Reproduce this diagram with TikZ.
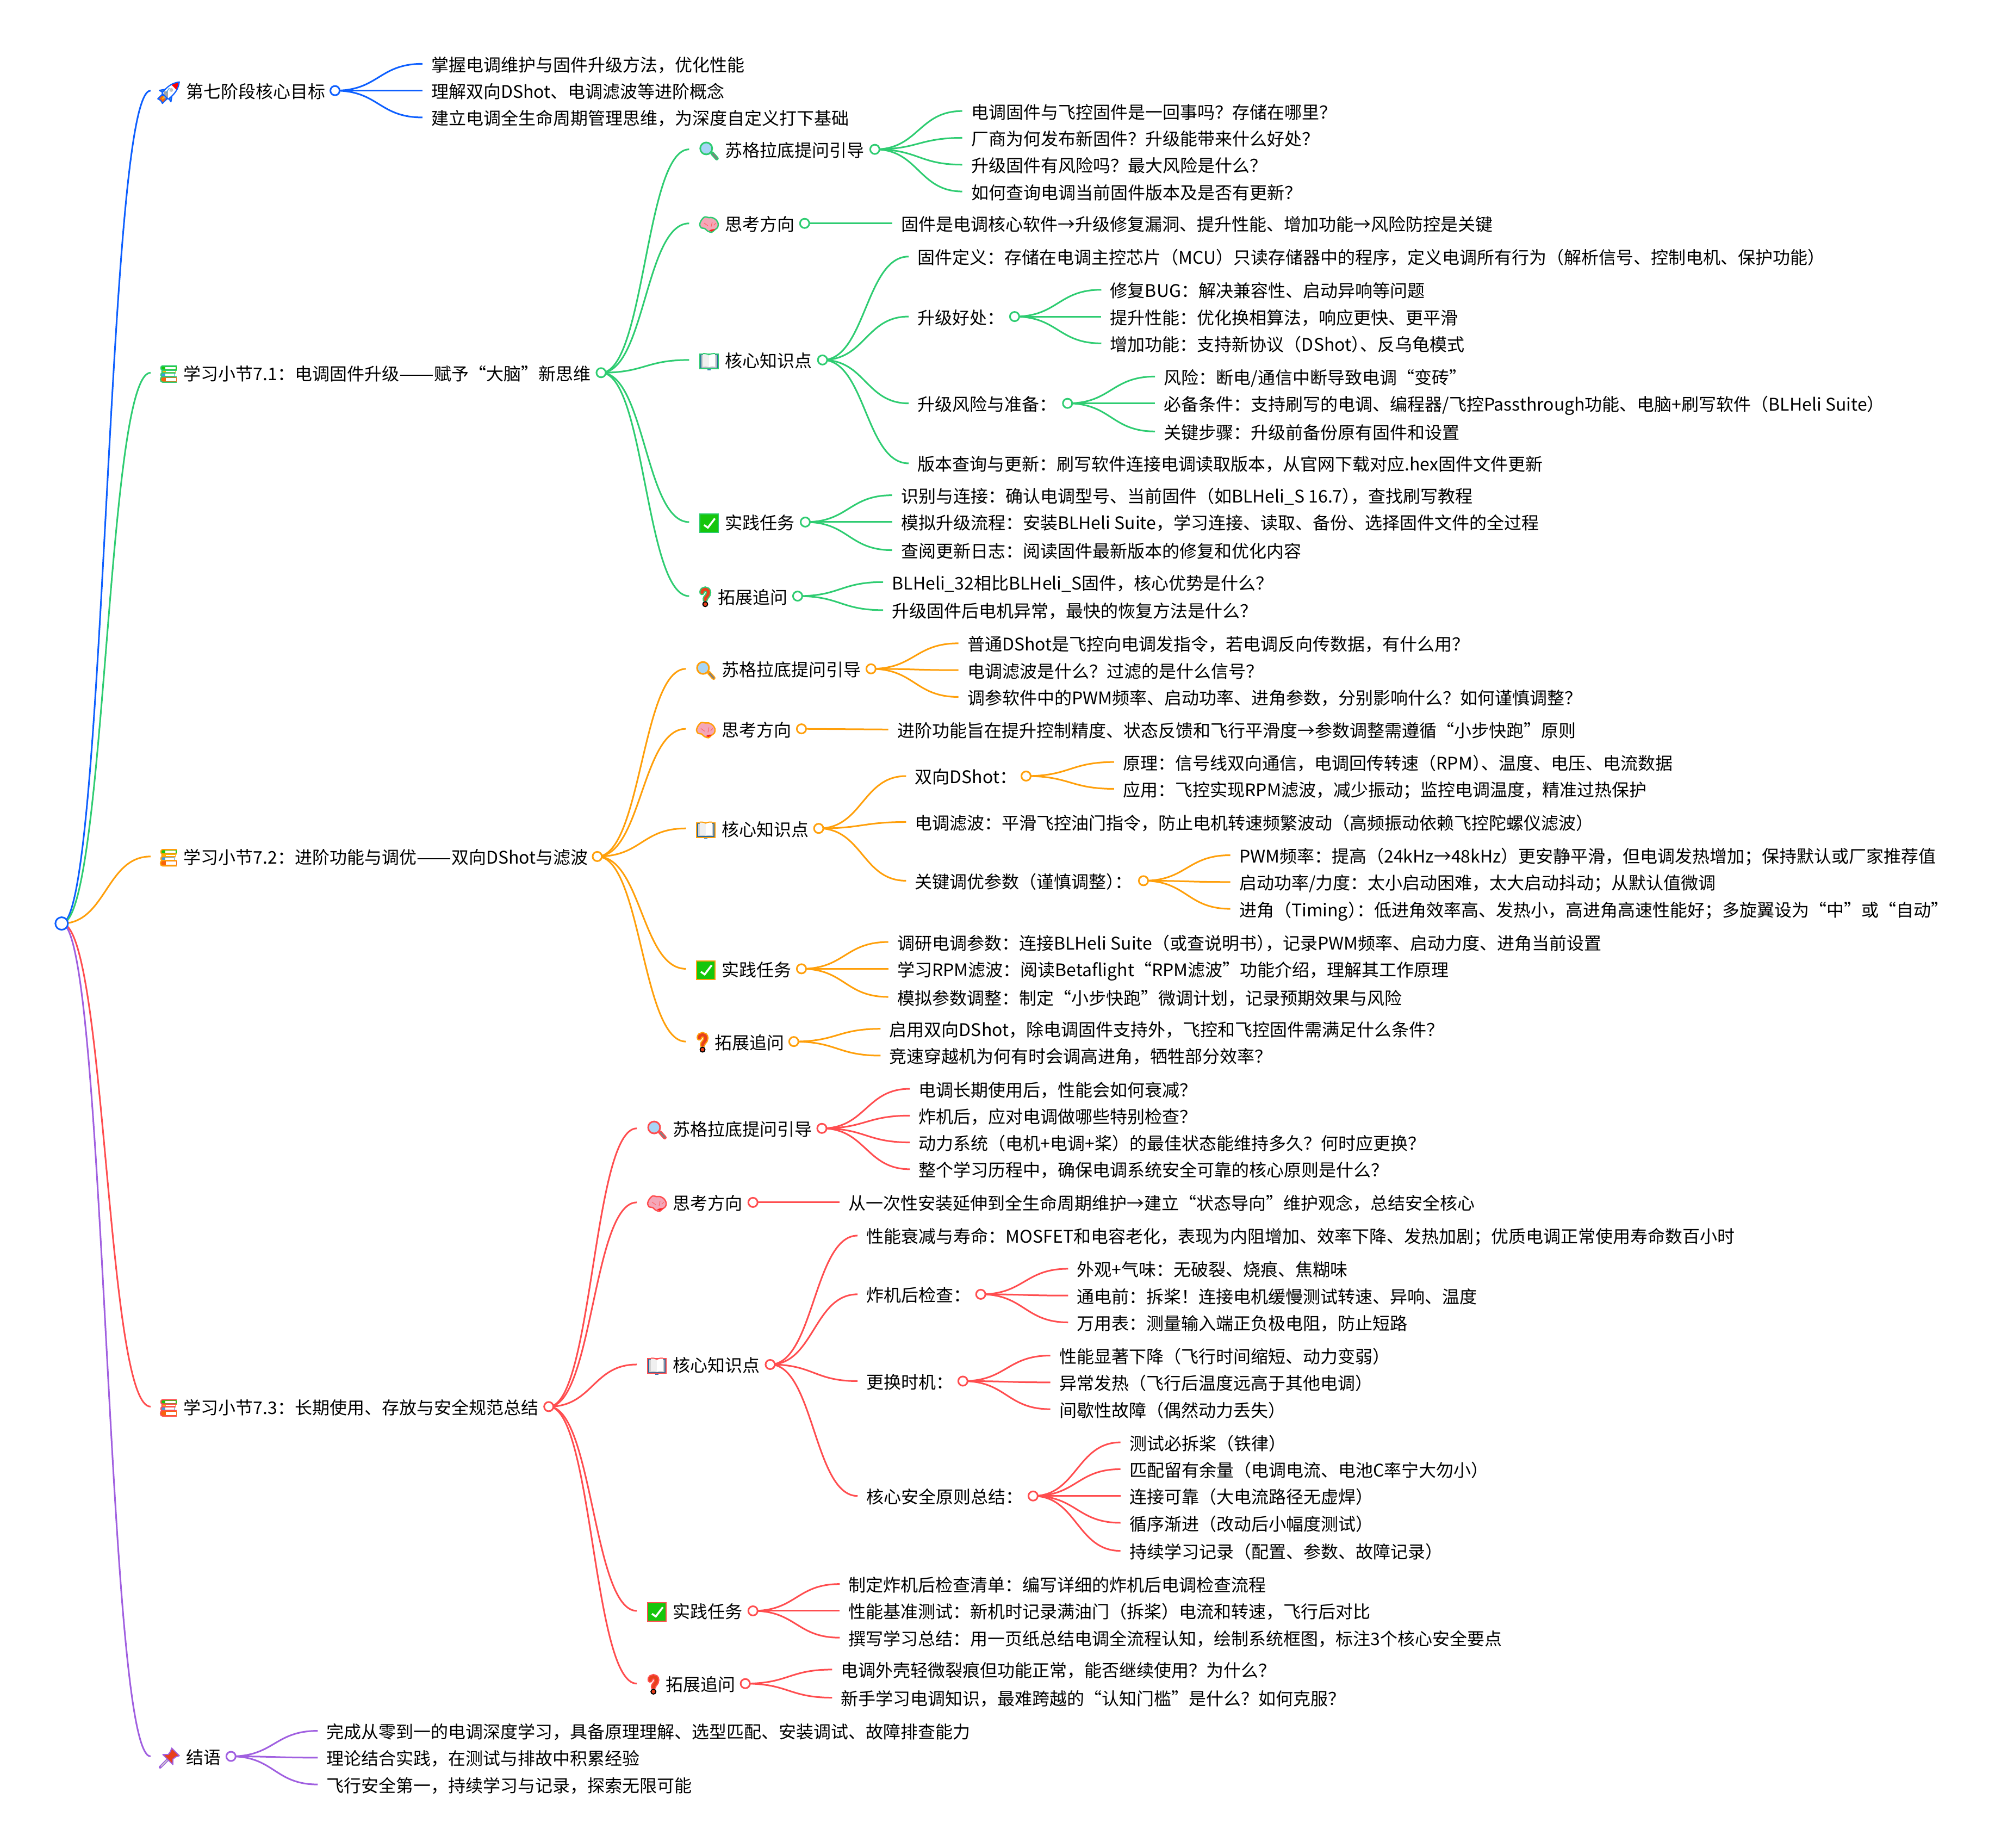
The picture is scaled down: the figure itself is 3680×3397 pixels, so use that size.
\documentclass[tikz,border=0pt]{standalone}
\usepackage{graphicx}
\usepackage{fontspec}
\setmainfont{Noto Sans CJK SC}
\usetikzlibrary{calc}
\pgfdeclarelayer{edges}
\pgfsetlayers{edges,main}

\definecolor{BlueLine}{HTML}{0D5FFF}
\definecolor{GreenLine}{HTML}{2ECC71}
\definecolor{OrangeLine}{HTML}{FF9F0A}
\definecolor{RedLine}{HTML}{FF4D4F}
\definecolor{PurpleLine}{HTML}{A05FE0}
\definecolor{IconGreen}{HTML}{16C60C}
\definecolor{IconRed}{HTML}{E8401C}
\definecolor{IconBlue}{HTML}{3F9BE0}
\definecolor{IconOrange}{HTML}{F7630C}
\definecolor{IconYellow}{HTML}{FCB900}
\definecolor{IconPink}{HTML}{F4A6B8}
\definecolor{IconLens}{HTML}{A8D5F5}
\newcommand{\Trim}{\kern-.5em}
\newcommand{\LongDash}{\scalebox{1.19}[1]{——}}

\tikzset{RocketIcon/.pic = {
	\begin{scope}[x={(0.707pt,0.707pt)},y={(-0.707pt,0.707pt)},line width=2.2pt,line join=round]
		\draw[fill=IconOrange] (-14,-6) -- (-25,-6) .. controls (-23,0) .. (-25,6) -- (-14,6) -- cycle;
		\fill[IconYellow] (-14,-2.5) -- (-21,0) -- (-14,2.5) -- cycle;
		\draw[fill=IconBlue] (-12,-15) -- (-2,-8) -- (-10,-8) -- cycle;
		\draw[fill=IconBlue] (-12,15) -- (-2,8) -- (-10,8) -- cycle;
		\fill[white] (-12,-8) .. controls (4,-10) and (14,-8) .. (25,0) .. controls (14,8) and (4,10) .. (-12,8) -- cycle;
		\fill[red] (11,-8) .. controls (16,-6) .. (25,0) .. controls (16,6) .. (11,8) -- cycle;
		\fill[gray!70] (-11,-7) rectangle (-7,7);
		\fill[gray!50] (4,0) circle (3.5);
		\draw[IconBlue,line width=1.2pt] (-7,3) -- (4,5);
		\draw (-12,-8) .. controls (4,-10) and (14,-8) .. (25,0) .. controls (14,8) and (4,10) .. (-12,8) -- cycle;
	\end{scope}}}
\tikzset{BooksIcon/.pic = {
	\begin{scope}[x=1pt,y=-1pt,line width=2.2pt,line join=round]
		\draw[fill=IconGreen] (15,-15) -- (-11,-15) .. controls (-15,-15) and (-15,-7) .. (-11,-7) -- (15,-7);
		\fill[white] (-6,-13) rectangle (13,-9);
		\draw[fill=IconYellow] (13,-7) -- (-10,-7) .. controls (-13,-7) and (-13,-2) .. (-10,-2) -- (13,-2);
		\fill[white] (-5,-5.5) rectangle (12,-3.5);
		\draw[fill=IconBlue] (11,-2) -- (-11,-2) .. controls (-15,-2) and (-15,5) .. (-11,5) -- (11,5);
		\fill[white] (-6,-0.5) rectangle (10,3.5);
		\draw[fill=IconOrange] (15,5) -- (-11,5) .. controls (-16,5) and (-16,15) .. (-11,15) -- (15,15);
		\fill[white] (-5,7) rectangle (14,13);
	\end{scope}}}
\tikzset{GlassIcon/.pic = {
	\begin{scope}[x=1pt,y=-1pt]
		\draw[line width=7pt,line cap=round] (6,5) -- (14.5,14.5);
		\draw[line width=3pt,line cap=round,gray] (7,6) -- (14.5,14.5);
		\draw[line width=3pt,fill=IconLens] (-5,-4) circle (11);
	\end{scope}}}
\tikzset{BrainIcon/.pic = {
	\begin{scope}[x=1pt,y=-1pt]
		\draw[line width=2.5pt,fill=IconPink] plot[smooth cycle] coordinates {(-17,0) (-14,-8) (-8,-14) (0,-13) (6,-13) (13,-9) (17,-2) (16,5) (10,10) (5,14) (-2,12) (-8,7) (-14,6)};
		\fill[red!85!pink] (0,11) .. controls (5,8) and (9,8) .. (12,8.5) -- (5,12.7) -- cycle;
		\draw[line width=1pt,red!50!pink] (-9,-3) -- (-2,2) (6,-5) -- (4,4) (9,1) -- (13,-3);
	\end{scope}}}
\tikzset{OpenBookIcon/.pic = {
	\begin{scope}[x=1pt,y=-1pt,line width=2pt]
		\fill[IconBlue!80!black] (-3,13) rectangle (3,16.5);
		\draw[fill=IconBlue!70!black] (-17,-13) rectangle (17,14);
		\fill[gray!35] (-14,-11) rectangle (14,11.5);
		\fill[gray!12] (-11,-14) .. controls (-5,-14) .. (0,-12) -- (0,11) .. controls (-5,9) .. (-11,10) -- cycle;
		\fill[white] (11,-14) .. controls (5,-14) .. (0,-12) -- (0,11) .. controls (5,9) .. (11,10) -- cycle;
		\draw (-11,-14) .. controls (-5,-14) .. (0,-12) .. controls (5,-14) .. (11,-14);
	\end{scope}}}
\tikzset{CheckIcon/.pic = {
	\begin{scope}[x=1pt,y=-1pt]
		\draw[line width=2pt,fill=IconGreen] (-17,-17) rectangle (17,17);
		\draw[line width=3.5pt,white] (-9,3) -- (-2,8) -- (11,-9);
	\end{scope}}}
\tikzset{QuestionIcon/.pic = {
	\begin{scope}[x=1pt,y=-1pt,line cap=round]
		\draw[line width=10pt] (-6,-9) .. controls (-6,-17) and (6,-17) .. (6,-9) .. controls (6,-2) and (0,-1) .. (0,4);
		\fill (0,12.5) circle (5.5);
		\draw[line width=5.5pt,IconRed] (-6,-9) .. controls (-6,-17) and (6,-17) .. (6,-9) .. controls (6,-2) and (0,-1) .. (0,4);
		\fill[IconRed] (0,12.5) circle (3.3);
	\end{scope}}}
\tikzset{PinIcon/.pic = {
	\begin{scope}[x={(0.707pt,0.707pt)},y={(-0.707pt,0.707pt)},line join=round]
		\draw[line width=5pt,line cap=round] (-25,0) -- (-6,0);
		\draw[line width=2pt,gray!40] (-23,0) -- (-6,0);
		\draw[line width=2pt,fill=IconRed] (15,-10) -- (15,10) -- (9,7) -- (2,6) -- (-5,13) -- (-5,-13) -- (2,-6) -- (9,-7) -- cycle;
	\end{scope}}}

\begin{document}
\begin{tikzpicture}[x=2.347pt,y=-2.347pt]
	\useasboundingbox (0,0) rectangle (3680pt,-3397pt);
	\tikzset{TextStyle/.style = {anchor		= west,
								  inner xsep	= 16.5pt,
								  inner ysep	= 0pt,
								  outer sep		= 0pt,
								  text height	= 31pt,
								  text depth	= 3pt,
								  font			= \fontsize{32}{38}\selectfont}}
	\tikzset{IconText/.style = {TextStyle,inner xsep = 66pt}}
	\tikzset{BooksText/.style = {TextStyle,inner xsep = 61pt}}
	\tikzset{AskText/.style = {TextStyle,inner xsep = 53pt}}
	\tikzset{DotStyle/.style = {circle,
								  draw,
								  fill			= white,
								  line width	= 3pt,
								  inner sep		= 0pt,
								  outer sep		= 0pt,
								  minimum size	= 17pt}}
	\tikzset{EdgeStyle/.style = {line width = 3pt,
								  to path = {let \p1 = (\tikztostart), \p2 = (\tikztotarget) in
								  .. controls ({0.5*\x1+0.5*\x2},\y1) and ({0.5*\x1+0.5*\x2},\y2) .. (\tikztotarget)}}}

	%root
	\node[DotStyle,draw=BlueLine,minimum size=23pt](R) at (48.3,723.5) {};

	%goal branch
	\begin{scope}[draw=BlueLine]
		\node[IconText](A) at (118,71) {第七阶段核心目标};
		\pic at (133,71.7) {RocketIcon};
		\node[DotStyle](A_d) at (262.5,71) {};
		\node[TextStyle](A_1) at (331,50) {掌握电调维护与固件升级方法，优化性能};
		\node[TextStyle](A_2) at (331,71) {理解双向DShot、电调滤波等进阶概念};
		\node[TextStyle](A_3) at (331,92) {建立电调全生命周期管理思维，为深度自定义打下基础};
	\end{scope}
	\begin{pgfonlayer}{edges}
	\begin{scope}[draw=BlueLine]
		\draw[EdgeStyle](R.center) to (A.west);
		\foreach \kid in {A_1,A_2,A_3} \draw[EdgeStyle](A_d.center) to (\kid.west);
	\end{scope}
	\end{pgfonlayer}

	%section 7.1
	\begin{scope}[draw=GreenLine]
		\node[BooksText](B) at (118,292) {学习小节7.1：电调固件升级\LongDash 赋予“大脑”新思维};
		\pic at (132,293) {BooksIcon};
		\node[DotStyle](B_d) at (471,292) {};

		\node[IconText](B1) at (540,117) {苏格拉底提问引导};
		\pic at (555.5,118) {GlassIcon};
		\node[DotStyle](B1_d) at (685.5,117) {};
		\node[TextStyle](B1_1) at (754,87) {电调固件与飞控固件是一回事吗？存储在哪里？};
		\node[TextStyle](B1_2) at (754,108) {厂商为何发布新固件？升级能带来什么好处？};
		\node[TextStyle](B1_3) at (754,129) {升级固件有风险吗？最大风险是什么？};
		\node[TextStyle](B1_4) at (754,150) {如何查询电调当前固件版本及是否有更新？};

		\node[IconText](B2) at (540,175) {思考方向};
		\pic at (555.5,176) {BrainIcon};
		\node[DotStyle](B2_d) at (630.5,175) {};
		\node[TextStyle](B2_1) at (699,175) {固件是电调核心软件→升级修复漏洞、提升性能、增加功能→风险防控是关键};

		\node[IconText](B3) at (540,282) {核心知识点};
		\pic at (555.5,283) {OpenBookIcon};
		\node[DotStyle](B3_d) at (644.5,282) {};
		\node[TextStyle](B3_1) at (712,201) {固件定义：存储在电调主控芯片（MCU）只读存储器中的程序，定义电调所有行为（解析信号、控制电机、保护功能）};
		\node[TextStyle](B3_2) at (712,248) {升级好处：};
		\node[DotStyle](B3_2d) at (795,248) {};
		\node[TextStyle](B3_21) at (863,227) {修复BUG：解决兼容性、启动异响等问题};
		\node[TextStyle](B3_22) at (863,248) {提升性能：优化换相算法，响应更快、更平滑};
		\node[TextStyle](B3_23) at (863,269) {增加功能：支持新协议（DShot）\Trim 、反乌龟模式};
		\node[TextStyle](B3_3) at (712,316) {升级风险与准备：};
		\node[DotStyle](B3_3d) at (836.5,316) {};
		\node[TextStyle](B3_31) at (905,295) {风险：断电/通信中断导致电调“变砖”};
		\node[TextStyle](B3_32) at (905,316) {必备条件：支持刷写的电调、编程器/飞控Passthrough功能、电脑+刷写软件（BLHeli Suite）};
		\node[TextStyle](B3_33) at (905,338) {关键步骤：升级前备份原有固件和设置};
		\node[TextStyle](B3_4) at (712,363) {版本查询与更新：刷写软件连接电调读取版本，从官网下载对应.hex固件文件更新};

		\node[IconText](B4) at (540,409) {实践任务};
		\pic at (555.5,410) {CheckIcon};
		\node[DotStyle](B4_d) at (631,409) {};
		\node[TextStyle](B4_1) at (699,388) {识别与连接：确认电调型号、当前固件（如BLHeli\_S 16.7）\Trim ，查找刷写教程};
		\node[TextStyle](B4_2) at (699,409) {模拟升级流程：安装BLHeli Suite，学习连接、读取、备份、选择固件文件的全过程};
		\node[TextStyle](B4_3) at (699,431) {查阅更新日志：阅读固件最新版本的修复和优化内容};

		\node[AskText](B5) at (540,467) {拓展追问};
		\pic at (552.6,468) {QuestionIcon};
		\node[DotStyle](B5_d) at (625,467) {};
		\node[TextStyle](B5_1) at (692,456) {BLHeli\_32相比BLHeli\_S固件，核心优势是什么？};
		\node[TextStyle](B5_2) at (692,478) {升级固件后电机异常，最快的恢复方法是什么？};
	\end{scope}
	\begin{pgfonlayer}{edges}
	\begin{scope}[draw=GreenLine]
		\draw[EdgeStyle](R.center) to (B.west);
		\foreach \kid in {B1,B2,B3,B4,B5} \draw[EdgeStyle](B_d.center) to (\kid.west);
		\foreach \kid in {B1_1,B1_2,B1_3,B1_4} \draw[EdgeStyle](B1_d.center) to (\kid.west);
		\draw[EdgeStyle](B2_d.center) to (B2_1.west);
		\foreach \kid in {B3_1,B3_2,B3_3,B3_4} \draw[EdgeStyle](B3_d.center) to (\kid.west);
		\foreach \kid in {B3_21,B3_22,B3_23} \draw[EdgeStyle](B3_2d.center) to (\kid.west);
		\foreach \kid in {B3_31,B3_32,B3_33} \draw[EdgeStyle](B3_3d.center) to (\kid.west);
		\foreach \kid in {B4_1,B4_2,B4_3} \draw[EdgeStyle](B4_d.center) to (\kid.west);
		\foreach \kid in {B5_1,B5_2} \draw[EdgeStyle](B5_d.center) to (\kid.west);
	\end{scope}
	\end{pgfonlayer}

	%section 7.2
	\begin{scope}[draw=OrangeLine]
		\node[BooksText](C) at (118,671) {学习小节7.2：进阶功能与调优\LongDash 双向DShot与滤波};
		\pic at (132,672) {BooksIcon};
		\node[DotStyle](C_d) at (468,671) {};

		\node[IconText](C1) at (537.5,524) {苏格拉底提问引导};
		\pic at (553,525) {GlassIcon};
		\node[DotStyle](C1_d) at (682.5,524) {};
		\node[TextStyle](C1_1) at (751,504) {普通DShot是飞控向电调发指令，若电调反向传数据，有什么用？};
		\node[TextStyle](C1_2) at (751,525) {电调滤波是什么？过滤的是什么信号？};
		\node[TextStyle](C1_3) at (751,546) {调参软件中的PWM频率、启动功率、进角参数，分别影响什么？如何谨慎调整？};

		\node[IconText](C2) at (537.5,571) {思考方向};
		\pic at (553,572) {BrainIcon};
		\node[DotStyle](C2_d) at (628,571) {};
		\node[TextStyle](C2_1) at (696,571.5) {进阶功能旨在提升控制精度、状态反馈和飞行平滑度→参数调整需遵循“小步快跑”原则};

		\node[IconText](C3) at (537.5,649) {核心知识点};
		\pic at (553,650) {OpenBookIcon};
		\node[DotStyle](C3_d) at (641.5,649) {};
		\node[TextStyle](C3_1) at (710,608) {双向DShot：};
		\node[DotStyle](C3_1d) at (804,608) {};
		\node[TextStyle](C3_11) at (873,597) {原理：信号线双向通信，电调回传转速（RPM）\Trim 、温度、电压、电流数据};
		\node[TextStyle](C3_12) at (873,618) {应用：飞控实现RPM滤波，减少振动；监控电调温度，精准过热保护};
		\node[TextStyle](C3_2) at (710,644) {电调滤波：平滑飞控油门指令，防止电机转速频繁波动（高频振动依赖飞控陀螺仪滤波）};
		\node[TextStyle](C3_3) at (710,690) {关键调优参数（谨慎调整）\Trim ：};
		\node[DotStyle](C3_3d) at (896,690) {};
		\node[TextStyle](C3_31) at (964,670) {PWM频率：提高（24kHz→48kHz）更安静平滑，但电调发热增加；保持默认或厂家推荐值};
		\node[TextStyle](C3_32) at (964,691) {启动功率/力度：太小启动困难，太大启动抖动；从默认值微调};
		\node[TextStyle](C3_33) at (964,712) {进角（Timing）\Trim ：低进角效率高、发热小，高进角高速性能好；多旋翼设为“中”或“自动”};

		\node[IconText](C4) at (537.5,759) {实践任务};
		\pic at (553,760) {CheckIcon};
		\node[DotStyle](C4_d) at (628,759) {};
		\node[TextStyle](C4_1) at (696,738) {调研电调参数：连接BLHeli Suite（或查说明书）\Trim ，记录PWM频率、启动力度、进角当前设置};
		\node[TextStyle](C4_2) at (696,759) {学习RPM滤波：阅读Betaflight“RPM滤波”功能介绍，理解其工作原理};
		\node[TextStyle](C4_3) at (696,781) {模拟参数调整：制定“小步快跑”微调计划，记录预期效果与风险};

		\node[AskText](C5) at (537.5,816) {拓展追问};
		\pic at (550.5,817) {QuestionIcon};
		\node[DotStyle](C5_d) at (622,816) {};
		\node[TextStyle](C5_1) at (690,806) {启用双向DShot，除电调固件支持外，飞控和飞控固件需满足什么条件？};
		\node[TextStyle](C5_2) at (690,827) {竞速穿越机为何有时会调高进角，牺牲部分效率？};
	\end{scope}
	\begin{pgfonlayer}{edges}
	\begin{scope}[draw=OrangeLine]
		\draw[EdgeStyle](R.center) to (C.west);
		\foreach \kid in {C1,C2,C3,C4,C5} \draw[EdgeStyle](C_d.center) to (\kid.west);
		\foreach \kid in {C1_1,C1_2,C1_3} \draw[EdgeStyle](C1_d.center) to (\kid.west);
		\draw[EdgeStyle](C2_d.center) to (C2_1.west);
		\foreach \kid in {C3_1,C3_2,C3_3} \draw[EdgeStyle](C3_d.center) to (\kid.west);
		\foreach \kid in {C3_11,C3_12} \draw[EdgeStyle](C3_1d.center) to (\kid.west);
		\foreach \kid in {C3_31,C3_32,C3_33} \draw[EdgeStyle](C3_3d.center) to (\kid.west);
		\foreach \kid in {C4_1,C4_2,C4_3} \draw[EdgeStyle](C4_d.center) to (\kid.west);
		\foreach \kid in {C5_1,C5_2} \draw[EdgeStyle](C5_d.center) to (\kid.west);
	\end{scope}
	\end{pgfonlayer}

	%section 7.3
	\begin{scope}[draw=RedLine]
		\node[BooksText](D) at (118,1102) {学习小节7.3：长期使用、存放与安全规范总结};
		\pic at (132,1103) {BooksIcon};
		\node[DotStyle](D_d) at (430,1102) {};

		\node[IconText](D1) at (499,884) {苏格拉底提问引导};
		\pic at (514.7,885) {GlassIcon};
		\node[DotStyle](D1_d) at (644,884) {};
		\node[TextStyle](D1_1) at (713,853) {电调长期使用后，性能会如何衰减？};
		\node[TextStyle](D1_2) at (713,874) {炸机后，应对电调做哪些特别检查？};
		\node[TextStyle](D1_3) at (713,895) {动力系统（电机+电调+桨）的最佳状态能维持多久？何时应更换？};
		\node[TextStyle](D1_4) at (713,916) {整个学习历程中，确保电调系统安全可靠的核心原则是什么？};

		\node[IconText](D2) at (499,942) {思考方向};
		\pic at (514.7,943) {BrainIcon};
		\node[DotStyle](D2_d) at (590,942) {};
		\node[TextStyle](D2_1) at (658,942) {从一次性安装延伸到全生命周期维护→建立“状态导向”维护观念，总结安全核心};

		\node[IconText](D3) at (499,1069) {核心知识点};
		\pic at (514.7,1070) {OpenBookIcon};
		\node[DotStyle](D3_d) at (603.5,1069) {};
		\node[TextStyle](D3_1) at (672,968) {性能衰减与寿命：MOSFET和电容老化，表现为内阻增加、效率下降、发热加剧；优质电调正常使用寿命数百小时};
		\node[TextStyle](D3_2) at (672,1014) {炸机后检查：};
		\node[DotStyle](D3_2d) at (768.5,1014) {};
		\node[TextStyle](D3_21) at (837,994) {外观+气味：无破裂、烧痕、焦糊味};
		\node[TextStyle](D3_22) at (837,1015) {通电前：拆桨！连接电机缓慢测试转速、异响、温度};
		\node[TextStyle](D3_23) at (837,1036) {万用表：测量输入端正负极电阻，防止短路};
		\node[TextStyle](D3_3) at (672,1082) {更换时机：};
		\node[DotStyle](D3_3d) at (754.5,1082) {};
		\node[TextStyle](D3_31) at (823,1062) {性能显著下降（飞行时间缩短、动力变弱）};
		\node[TextStyle](D3_32) at (823,1083) {异常发热（飞行后温度远高于其他电调）};
		\node[TextStyle](D3_33) at (823,1104) {间歇性故障（偶然动力丢失）};
		\node[TextStyle](D3_4) at (672,1172) {核心安全原则总结：};
		\node[DotStyle](D3_4d) at (809.5,1172) {};
		\node[TextStyle](D3_41) at (878,1130) {测试必拆桨（铁律）};
		\node[TextStyle](D3_42) at (878,1151) {匹配留有余量（电调电流、电池C率宁大勿小）};
		\node[TextStyle](D3_43) at (878,1172) {连接可靠（大电流路径无虚焊）};
		\node[TextStyle](D3_44) at (878,1193) {循序渐进（改动后小幅度测试）};
		\node[TextStyle](D3_45) at (878,1215) {持续学习记录（配置、参数、故障记录）};

		\node[IconText](D4) at (499,1262) {实践任务};
		\pic at (514.7,1263) {CheckIcon};
		\node[DotStyle](D4_d) at (590,1262) {};
		\node[TextStyle](D4_1) at (658,1241) {制定炸机后检查清单：编写详细的炸机后电调检查流程};
		\node[TextStyle](D4_2) at (658,1262) {性能基准测试：新机时记录满油门（拆桨）电流和转速，飞行后对比};
		\node[TextStyle](D4_3) at (658,1283) {撰写学习总结：用一页纸总结电调全流程认知，绘制系统框图，标注3个核心安全要点};

		\node[AskText](D5) at (499,1319) {拓展追问};
		\pic at (512,1320) {QuestionIcon};
		\node[DotStyle](D5_d) at (584,1319) {};
		\node[TextStyle](D5_1) at (652,1308) {电调外壳轻微裂痕但功能正常，能否继续使用？为什么？};
		\node[TextStyle](D5_2) at (652,1330) {新手学习电调知识，最难跨越的“认知门槛”是什么？如何克服？};
	\end{scope}
	\begin{pgfonlayer}{edges}
	\begin{scope}[draw=RedLine]
		\draw[EdgeStyle](R.center) to (D.west);
		\foreach \kid in {D1,D2,D3,D4,D5} \draw[EdgeStyle](D_d.center) to (\kid.west);
		\foreach \kid in {D1_1,D1_2,D1_3,D1_4} \draw[EdgeStyle](D1_d.center) to (\kid.west);
		\draw[EdgeStyle](D2_d.center) to (D2_1.west);
		\foreach \kid in {D3_1,D3_2,D3_3,D3_4} \draw[EdgeStyle](D3_d.center) to (\kid.west);
		\foreach \kid in {D3_21,D3_22,D3_23} \draw[EdgeStyle](D3_2d.center) to (\kid.west);
		\foreach \kid in {D3_31,D3_32,D3_33} \draw[EdgeStyle](D3_3d.center) to (\kid.west);
		\foreach \kid in {D3_41,D3_42,D3_43,D3_44,D3_45} \draw[EdgeStyle](D3_4d.center) to (\kid.west);
		\foreach \kid in {D4_1,D4_2,D4_3} \draw[EdgeStyle](D4_d.center) to (\kid.west);
		\foreach \kid in {D5_1,D5_2} \draw[EdgeStyle](D5_d.center) to (\kid.west);
	\end{scope}
	\end{pgfonlayer}

	%closing branch
	\begin{scope}[draw=PurpleLine]
		\node[IconText](E) at (118,1376) {结语};
		\pic at (133,1377) {PinIcon};
		\node[DotStyle](E_d) at (181,1376) {};
		\node[TextStyle](E_1) at (249,1356) {完成从零到一的电调深度学习，具备原理理解、选型匹配、安装调试、故障排查能力};
		\node[TextStyle](E_2) at (249,1377) {理论结合实践，在测试与排故中积累经验};
		\node[TextStyle](E_3) at (249,1398) {飞行安全第一，持续学习与记录，探索无限可能};
	\end{scope}
	\begin{pgfonlayer}{edges}
	\begin{scope}[draw=PurpleLine]
		\draw[EdgeStyle](R.center) to (E.west);
		\foreach \kid in {E_1,E_2,E_3} \draw[EdgeStyle](E_d.center) to (\kid.west);
	\end{scope}
	\end{pgfonlayer}
\end{tikzpicture}
\end{document}
